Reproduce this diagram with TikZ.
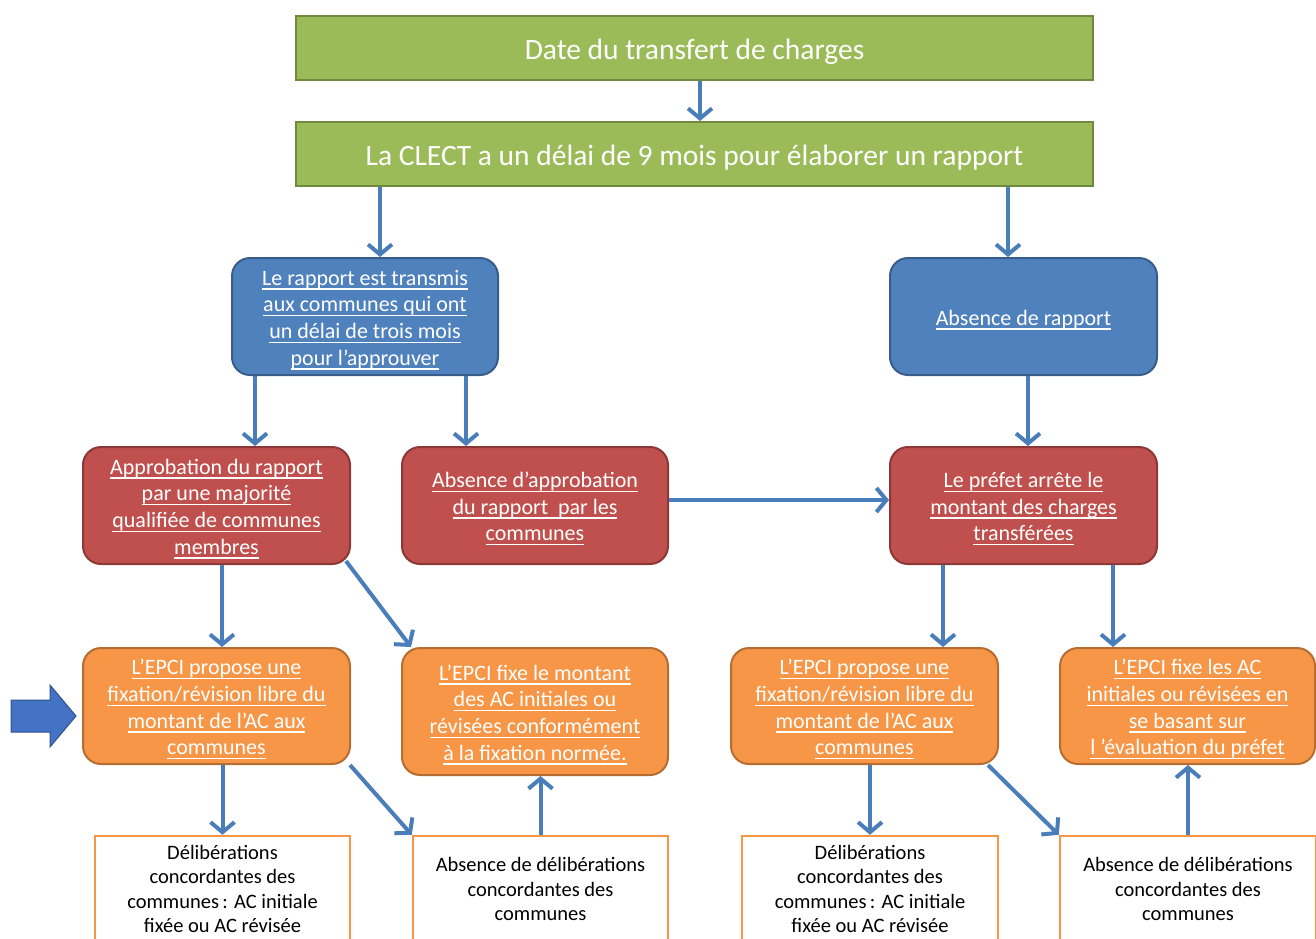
\documentclass[tikz,border=0pt]{standalone}
\usepackage{fontspec}
\setmainfont{Carlito}
\newcommand{\uline}[1]{\leavevmode\setbox0\hbox{#1}\rlap{\rule[-4.5pt]{\wd0}{1.4pt}}\box0}
\newcommand{\ulf}[1]{\rule{0pt}{22pt}\uline{#1}}
\usetikzlibrary{arrows.meta}
\definecolor{gfill}{HTML}{9BBB59}
\definecolor{gline}{HTML}{71893F}
\definecolor{bfill}{HTML}{4F81BD}
\definecolor{bline}{HTML}{385D8A}
\definecolor{rfill}{HTML}{C0504D}
\definecolor{rline}{HTML}{8C3836}
\definecolor{ofill}{HTML}{F79646}
\definecolor{oline}{HTML}{B66D31}
\definecolor{arrcol}{HTML}{4A7EBB}
\definecolor{bigarr}{HTML}{4472C4}
\definecolor{bigarrline}{HTML}{2F528F}
\tikzset{
  sz/.style 2 args={minimum width=#1pt, minimum height=#2pt},
  greenbox/.style={fill=gfill, draw=gline, line width=2pt, text=white, align=center, inner sep=0pt,
     font=\fontsize{29.5}{34}\selectfont, execute at begin node={\rule{0pt}{28pt}}},
  cbox/.style={rounded corners=18pt, line width=2pt, text=white, align=center, inner sep=0pt,
     font=\fontsize{22}{26.7}\selectfont},
  bluebox/.style={cbox, fill=bfill, draw=bline},
  redbox/.style={cbox, fill=rfill, draw=rline},
  orangebox/.style={cbox, fill=ofill, draw=oline},
  whitebox/.style={fill=white, draw=ofill, line width=2.5pt, text=black, align=center, inner sep=0pt,
     font=\fontsize{20.5}{24.4}\selectfont},
  arr/.style={draw=arrcol, line width=4pt, -{Straight Barb[length=10pt,width=24pt]}},
}
\begin{document}
\begin{tikzpicture}[x=1pt,y=-1pt]
\useasboundingbox (0,0) rectangle (1316,938);
\clip (0,0) rectangle (1316,938);

\node[greenbox, sz={797}{64}] (g1) at (694.5,48) {Date du transfert de charges};
\node[greenbox, sz={797}{64}] (g2) at (694.5,154) {La CLECT a un délai de 9 mois pour élaborer un rapport};

\node[bluebox, sz={266}{117}] (b1) at (365,316.5) {\ulf{Le rapport est transmis}\\\uline{aux communes qui ont}\\\uline{un délai de trois mois}\\\uline{pour l’approuver}};
\node[bluebox, sz={267}{117}] (b2) at (1023.5,316.5) {\ulf{Absence de rapport}};

\node[redbox, sz={267}{117}] (r1) at (216.5,505.5) {\ulf{Approbation du rapport}\\\uline{par une majorité}\\\uline{qualifiée de communes}\\\uline{membres}};
\node[redbox, sz={266}{117}] (r2) at (535,505.5) {\ulf{Absence d’approbation}\\\uline{du rapport\ \ par les}\\\uline{communes}};
\node[redbox, sz={267}{117}] (r3) at (1023.5,505.5) {\ulf{Le préfet arrête le}\\\uline{montant des charges}\\\uline{transférées}};

\node[orangebox, sz={267}{116}] (o1) at (216.5,706) {\ulf{L’EPCI propose une}\\\uline{fixation/révision libre du}\\\uline{montant de l’AC aux}\\\uline{communes}};
\node[orangebox, sz={266}{127}] (o2) at (535,711.5) {\ulf{L’EPCI fixe le montant}\\\uline{des AC initiales ou}\\\uline{révisées conformément}\\\uline{à la fixation normée.}};
\node[orangebox, sz={267}{116}] (o3) at (864.5,706) {\ulf{L’EPCI propose une}\\\uline{fixation/révision libre du}\\\uline{montant de l’AC aux}\\\uline{communes}};
\node[orangebox, sz={255}{116}] (o4) at (1187.5,706) {\ulf{L’EPCI fixe les AC}\\\uline{initiales ou révisées en}\\\uline{se basant sur}\\\uline{l ’évaluation du préfet}};

\node[whitebox, sz={255}{106}] (w1) at (222.5,889) {Délibérations\\concordantes des\\communes\,: AC initiale\\fixée ou AC révisée};
\node[whitebox, sz={255}{106}] (w2) at (540.5,889) {Absence de délibérations\\concordantes des\\communes};
\node[whitebox, sz={256}{106}] (w3) at (870,889) {Délibérations\\concordantes des\\communes\,: AC initiale\\fixée ou AC révisée};
\node[whitebox, sz={256}{106}] (w4) at (1188,889) {Absence de délibérations\\concordantes des\\communes};

% block arrow
\draw[fill=bigarr, draw=bigarrline, line width=1pt]
  (11,700) -- (50,700) -- (50,685) -- (76,716) -- (50,747) -- (50,732) -- (11,732) -- cycle;

% connectors
\draw[arr] ([xshift=5.5pt]g1.south) -- ([xshift=5.5pt]g2.north);
\draw[arr] ([xshift=15pt]b1.north |- g2.south) -- ([xshift=15pt]b1.north);
\draw[arr] ([xshift=-15.5pt]b2.north |- g2.south) -- ([xshift=-15.5pt]b2.north);
\draw[arr] ([xshift=38.5pt]r1.north |- b1.south) -- ([xshift=38.5pt]r1.north);
\draw[arr] ([xshift=-69pt]r2.north |- b1.south) -- ([xshift=-69pt]r2.north);
\draw[arr] ([xshift=4.5pt]r3.north |- b2.south) -- ([xshift=4.5pt]r3.north);
\draw[arr] ([yshift=5.5pt]r2.east) -- ([yshift=5.5pt]r3.west);
\draw[arr] ([xshift=5.5pt]o1.north |- r1.south) -- ([xshift=5.5pt]o1.north);
\draw[arr] ([xshift=-5pt,yshift=4pt]r1.south east) -- ([xshift=10pt]o2.north west);
\draw[arr] ([xshift=78.5pt]o3.north |- r3.south) -- ([xshift=78.5pt]o3.north);
\draw[arr] ([xshift=-74.5pt]o4.north |- r3.south) -- ([xshift=-74.5pt]o4.north);
\draw[arr] (w1.north |- o1.south) -- (w1.north);
\draw[arr] ([xshift=-1pt]o1.south east) -- (w2.north west);
\draw[arr] (w2.north) -- (w2.north |- o2.south);
\draw[arr] (w3.north |- o3.south) -- (w3.north);
\draw[arr] ([xshift=-11pt]o3.south east) -- (w4.north west);
\draw[arr] (w4.north) -- (w4.north |- o4.south);
\end{tikzpicture}
\end{document}
